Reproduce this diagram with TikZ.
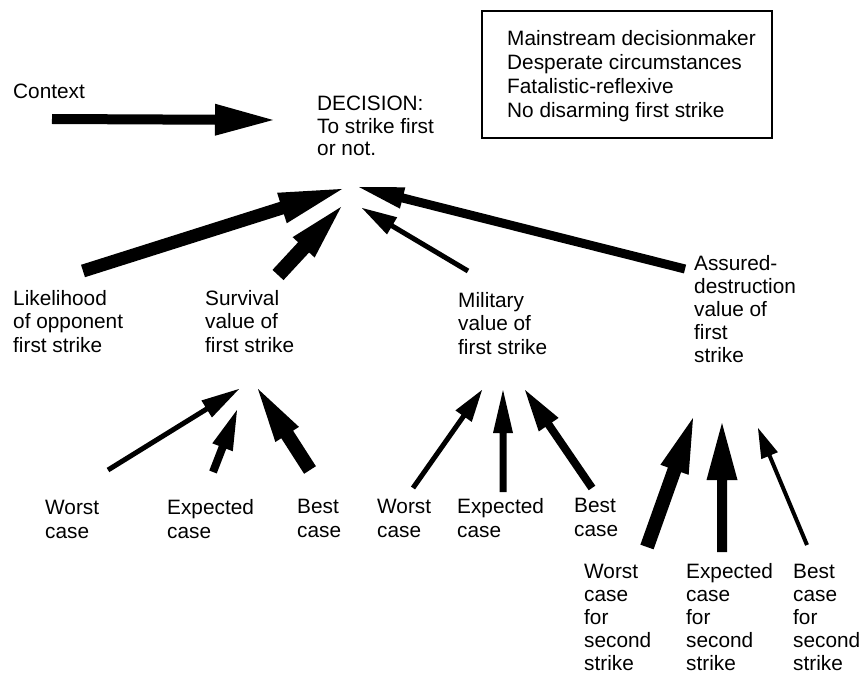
\documentclass[tikz,border=0pt]{standalone}
\usepackage{fontspec}
\setmainfont{Liberation Sans}
\usetikzlibrary{calc}

% Solid block arrow: tail, tip, half shaft width, head length, half head width
\newcommand{\blockarrow}[5]{%
  \coordinate (hb) at ($(#2)!#4!(#1)$);
  \fill ($(#1)!#3!90:(#2)$) -- ($(hb)!#3!90:(#2)$) -- ($(hb)!#5!90:(#2)$)
     -- (#2) -- ($(hb)!#5!-90:(#2)$) -- ($(hb)!#3!-90:(#2)$)
     -- ($(#1)!#3!-90:(#2)$) -- cycle;%
}

\begin{document}
\begin{tikzpicture}[x=1pt,y=-1pt,
  label/.style={font=\fontsize{20.8}{23.5}\selectfont, inner sep=0pt,
                align=left, anchor=base west}]
\useasboundingbox (0,0) rectangle (863,674);

% texts (each placed by the baseline of its last line)
\node[label] (context)  at (13,99)  {Context};
\node[label, font=\fontsize{20.8}{22.5}\selectfont] (decision) at (317,156)
  {DECISION:\\To strike first\\or not.};
\node[draw, line width=2pt, inner sep=0pt, minimum width=290pt,
      minimum height=127pt, anchor=north west] (frame) at (481,10) {};
\node[label, font=\fontsize{20.8}{24}\selectfont] (conds) at (507,118)
  {Mainstream decisionmaker\\Desperate circumstances\\Fatalistic-reflexive\\No disarming first strike};

\node[label] (likely)   at (13,352)  {Likelihood\\of opponent\\first strike};
\node[label] (survival) at (205,352) {Survival\\value of\\first strike};
\node[label] (military) at (458,354) {Military\\value of\\first strike};
\node[label, font=\fontsize{20.8}{23}\selectfont] (assured) at (694,362)
  {Assured-\\destruction\\value of\\first\\strike};

\node[label] (sworst) at (45,538)  {Worst\\case};
\node[label] (sexp)   at (167,538) {Expected\\case};
\node[label] (sbest)  at (297,537) {Best\\case};
\node[label] (mworst) at (377,537) {Worst\\case};
\node[label] (mexp)   at (457,537) {Expected\\case};
\node[label] (mbest)  at (574,536) {Best\\case};

\tikzset{tall/.style={label, font=\fontsize{20.8}{23}\selectfont}}
\node[tall] (aworst) at (584,670) {Worst\\case\\for\\second\\strike};
\node[tall] (aexp)   at (686,670) {Expected\\case\\for\\second\\strike};
\node[tall] (abest)  at (793,670) {Best\\case\\for\\second\\strike};

% arrow ends
\coordinate (ctxT) at (52,119);   \coordinate (ctxH) at (273,120);
\coordinate (likT) at (83,271);   \coordinate (likH) at (342,189);
\coordinate (surT) at (278,275);  \coordinate (surH) at (341,207);
\coordinate (milT) at (468,271);  \coordinate (milH) at (362,208);
\coordinate (assT) at (685,269);  \coordinate (assH) at (359,187);

\coordinate (swT) at (108,470);   \coordinate (swH) at (239,389);
\coordinate (seT) at (213,472);   \coordinate (seH) at (237,410);
\coordinate (sbT) at (310,470);   \coordinate (sbH) at (258,389);

\coordinate (mwT) at (413,488);   \coordinate (mwH) at (482,390);
\coordinate (meT) at (503,492);   \coordinate (meH) at (503,390);
\coordinate (mbT) at (592,488);   \coordinate (mbH) at (525,390);

\coordinate (awT) at (647,547);   \coordinate (awH) at (693,418);
\coordinate (aeT) at (722,552);   \coordinate (aeH) at (722,423);
\coordinate (abT) at (807,545);   \coordinate (abH) at (758,428);

% arrows
\blockarrow{ctxT}{ctxH}{5pt}{58pt}{16pt}
\blockarrow{likT}{likH}{6.5pt}{63pt}{16pt}
\blockarrow{surT}{surH}{7.5pt}{55pt}{15pt}
\blockarrow{milT}{milH}{2.5pt}{35pt}{10pt}
\blockarrow{assT}{assH}{4.5pt}{45pt}{11pt}

\blockarrow{swT}{swH}{2.5pt}{38pt}{10pt}
\blockarrow{seT}{seH}{4pt}{40pt}{11pt}
\blockarrow{sbT}{sbH}{7pt}{54pt}{14pt}

\blockarrow{mwT}{mwH}{2.5pt}{32pt}{10pt}
\blockarrow{meT}{meH}{3.5pt}{43pt}{10pt}
\blockarrow{mbT}{mbH}{4pt}{42pt}{12pt}

\blockarrow{awT}{awH}{7pt}{55pt}{15pt}
\blockarrow{aeT}{aeH}{5pt}{57pt}{15.5pt}
\blockarrow{abT}{abH}{2pt}{30pt}{9pt}
\end{tikzpicture}
\end{document}
